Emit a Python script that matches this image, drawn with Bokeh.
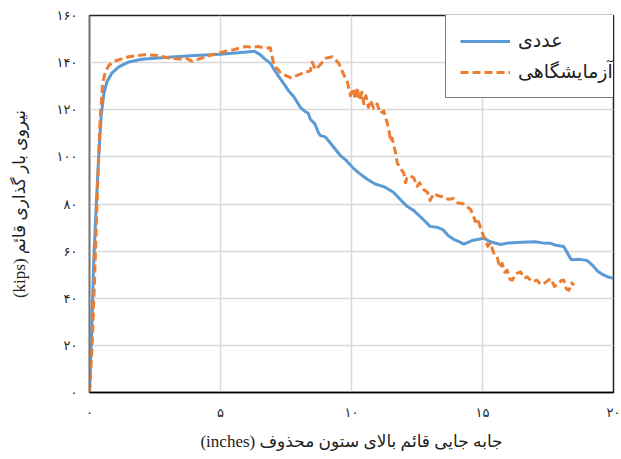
from bokeh.plotting import figure
from bokeh.models import Legend, LegendItem, FixedTicker, Range1d
from bokeh.embed import file_html
from bokeh.resources import INLINE

# Numerical (FE) load–displacement response
numerical_x = [0, 0.08, 0.16, 0.25, 0.35, 0.45, 0.55, 0.67, 0.85, 1.12, 1.5, 2.0, 2.5,
               3.0, 4.0, 5.0, 6.0, 6.3, 6.5, 6.7, 6.9, 7.05, 7.2, 7.42, 7.6, 7.8, 8.05,
               8.2, 8.35, 8.43, 8.6, 8.75, 8.82, 9.0, 9.2, 9.4, 9.58, 9.8, 10.09, 10.3,
               10.6, 10.9, 11.23, 11.6, 11.9, 12.12, 12.4, 12.76, 13.0, 13.3, 13.5, 13.7,
               13.9, 14.1, 14.29, 14.6, 15.05, 15.3, 15.69, 16.0, 16.5, 17.0, 17.3, 17.6,
               17.8, 18.1, 18.3, 18.4, 18.7, 19.0, 19.2, 19.4, 19.6, 19.8, 20.0]
numerical_y = [0, 25, 55, 78, 100, 118, 127, 132, 135.5, 138.2, 140.3, 141.4, 141.9,
               142.3, 143.0, 143.6, 144.5, 144.8, 143.5, 141.5, 139.8, 137, 134.5, 131,
               128, 125.5, 121, 119.5, 118.5, 116, 114, 110, 109, 108.5, 105.8, 103,
               100.5, 98.5, 95, 93, 90.5, 88.5, 87.4, 85, 81.5, 79, 77, 73.2, 70.5, 70,
               69, 66.5, 65, 64, 63, 64.5, 65.5, 64, 62.8, 63.5, 63.8, 64, 63.5, 63.3,
               62.5, 62, 58, 56.3, 56.5, 56, 54, 51.5, 50, 49, 48.5]

# Experimental (laboratory) load–displacement response
test_x = [0, 0.1, 0.2, 0.3, 0.4, 0.5, 0.6, 0.75, 1.0, 1.5, 2.14, 2.6, 3.03, 3.4, 3.7,
          3.92, 4.3, 4.94, 5.5, 5.95, 6.2, 6.46, 6.7, 6.9, 7.0, 7.05, 7.2, 7.3, 7.5,
          7.7, 7.9, 8.2, 8.43, 8.5, 8.63, 8.8, 9.0, 9.26, 9.5, 9.7, 9.85, 9.96, 10.05,
          10.15, 10.22, 10.3, 10.4, 10.47, 10.55, 10.65, 10.73, 10.85, 10.98, 11.1,
          11.23, 11.36, 11.45, 11.49, 11.55, 11.62, 11.7, 11.74, 11.85, 12.0, 12.06,
          12.12, 12.25, 12.38, 12.5, 12.6, 12.76, 12.9, 13.0, 13.14, 13.3, 13.52, 13.7,
          13.9, 14.05, 14.29, 14.45, 14.54, 14.65, 14.73, 14.8, 14.92, 15.05, 15.11,
          15.2, 15.3, 15.45, 15.56, 15.65, 15.75, 15.85, 15.94, 16.05, 16.13, 16.3,
          16.45, 16.6, 16.7, 16.9, 17.08, 17.2, 17.34, 17.5, 17.6, 17.75, 17.85, 18.0,
          18.1, 18.2, 18.3, 18.4, 18.49]
test_y = [0, 20, 50, 85, 115, 131, 136, 139, 140.8, 142.5, 143.4, 143, 142, 141.5, 141.8,
          140.5, 142, 144.2, 145.5, 146.8, 146.5, 146.8, 146.2, 146.3, 141, 138.5, 137,
          135.5, 134.5, 133.5, 134.5, 135.8, 136.5, 140.2, 137, 139, 141.8, 142.5, 140,
          135, 131.5, 126, 129, 124.5, 129.5, 124, 127.5, 122.5, 126, 121, 124, 120.5,
          122.5, 118.5, 119.5, 114.5, 110, 106.5, 108, 104.5, 101, 97.5, 95.5, 93, 89,
          91, 92, 91, 87.5, 89, 86, 85, 81.5, 84.5, 83.5, 83, 82, 82.3, 80.5, 80, 78.5,
          77.8, 75, 72.5, 74, 70, 66, 65.4, 62, 63.4, 58.5, 57.6, 53, 54.8, 51, 51.9,
          48, 47.7, 50.5, 51.2, 48.5, 49.1, 47, 47.7, 46, 46.2, 47.5, 48.4, 45, 45.5,
          47.5, 47.7, 44, 43.4, 46.5, 45.5]

x_ticks = [0, 5, 10, 15, 20]
x_tick_labels = ["۰", "۵", "۱۰", "۱۵", "۲۰"]
y_ticks = [0, 20, 40, 60, 80, 100, 120, 140, 160]
y_tick_labels = ["۰", "۲۰", "۴۰", "۶۰", "۸۰", "۱۰۰", "۱۲۰", "۱۴۰", "۱۶۰"]

series_names = ["عددی", "آزمایشگاهی"]
x_title = "\u202bجابه جایی قائم بالای ستون محذوف (inches)\u202c"
y_title = "\u202bنیروی بار گذاری قائم (kips)\u202c"

FONT = "Liberation Serif, DejaVu Sans"

p = figure(width=621, height=459, output_backend="svg", toolbar_location=None,
           x_range=Range1d(0, 20), y_range=Range1d(0, 160),
           min_border_left=89, min_border_right=8, min_border_top=15,
           min_border_bottom=67)
p.background_fill_color = "white"
p.border_fill_color = "white"
p.outline_line_color = "#222222"
p.outline_line_width = 1.5

for ax, ticks, labels in ((p.xaxis[0], x_ticks, x_tick_labels),
                          (p.yaxis[0], y_ticks, y_tick_labels)):
    ax.ticker = FixedTicker(ticks=ticks)
    ax.major_label_overrides = {t: l for t, l in zip(ticks, labels)}
    ax.major_tick_line_color = None
    ax.minor_tick_line_color = None
    ax.major_label_text_font = FONT
    ax.major_label_text_font_size = "13px"
    ax.major_label_text_color = "#222222"
    ax.axis_label_text_font = FONT
    ax.axis_label_text_font_size = "17px"
    ax.axis_label_text_font_style = "normal"
    ax.axis_label_text_color = "#222222"

p.xaxis.axis_label = x_title
p.yaxis.axis_label = y_title
p.xaxis.axis_line_color = "black"
p.xaxis.axis_line_width = 1.5
p.yaxis.axis_line_color = "#777777"
p.yaxis.axis_line_width = 1.5
p.xaxis.major_label_standoff = 6
p.xaxis.axis_label_standoff = 9
p.yaxis.major_label_standoff = 6
p.yaxis.axis_label_standoff = 25

p.xgrid.ticker = FixedTicker(ticks=x_ticks)
p.ygrid.ticker = FixedTicker(ticks=y_ticks)
p.grid.grid_line_color = "#d9d9d9"
p.grid.grid_line_width = 1.5

r_num = p.line(numerical_x, numerical_y, line_color="#5b9bd5", line_width=3,
               line_join="round")
r_test = p.line(test_x, test_y, line_color="#ed7d31", line_width=3,
                line_dash="8 4", line_join="round")

legend = Legend(items=[LegendItem(label=series_names[0], renderers=[r_num]),
                       LegendItem(label=series_names[1], renderers=[r_test])],
                location=(356, 294), margin=0, padding=14, spacing=8,
                glyph_width=50, glyph_height=20, label_height=20,
                label_standoff=8,
                label_text_font=FONT, label_text_font_size="19px",
                label_text_color="#222222",
                border_line_color="black", border_line_width=1.5,
                background_fill_color="white", background_fill_alpha=1.0)
p.add_layout(legend)

open("out.html", "w").write(file_html(p, INLINE))
